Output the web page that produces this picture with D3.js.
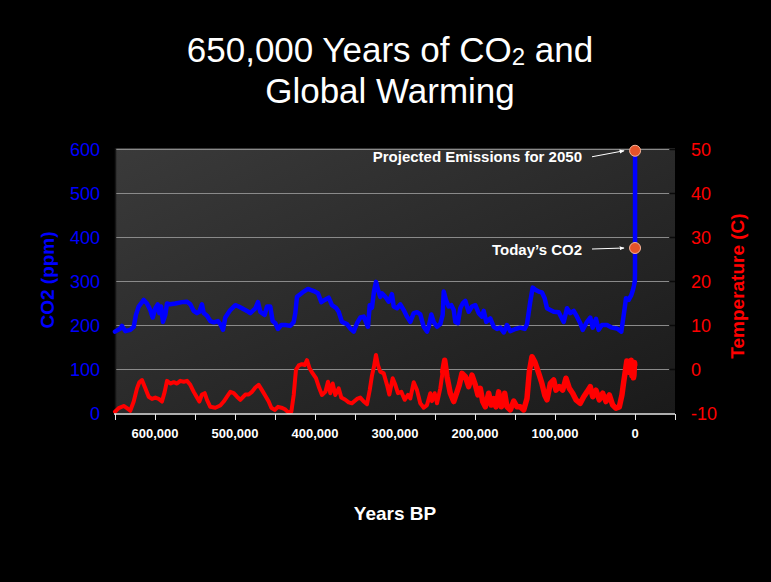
<!DOCTYPE html>
<html>
<head>
<meta charset="utf-8">
<script src="https://cdn.jsdelivr.net/npm/d3@7"></script>
<style>
  html, body { margin: 0; padding: 0; background: #000; }
  svg { display: block; }
  text { font-family: "Liberation Sans", Arial, sans-serif; }
</style>
</head>
<body>
<svg id="chart" width="771" height="582"></svg>
<script>
// ---- Data (years BP in thousands) ----
const co2Data = [[650,185],[643.4,192],[641.3,198],[637.1,186],[630.9,189],[626.6,196],[623.8,223],[620.4,242],[614.1,257],[610,249],[605.9,234],[602.9,217],[599.6,238],[596.6,247],[594.6,227],[592.5,242],[590,207],[587.1,223],[585,249],[580.9,247],[574.6,249],[566.3,252],[560,253],[555.9,247],[551.6,232],[547.5,227],[544.6,230],[541.3,247],[539.1,227],[535,221],[530.9,209],[526.6,206],[521.3,209],[518.4,202],[515,189],[512.1,217],[505.9,234],[499.6,245],[495.4,242],[491.3,238],[485,232],[480.9,227],[474.6,238],[471.3,252],[468.4,230],[462.9,223],[460,242],[455.9,242],[452.9,209],[449.6,204],[446.3,191],[442.1,200],[437.1,200],[430.9,198],[426.6,207],[424.6,227],[422.5,264],[418.4,270],[414.1,276],[408.8,282],[401.6,277],[396.3,272],[392.1,252],[387.9,257],[382.9,262],[378.8,245],[373.8,239],[370.4,230],[366.3,207],[360,202],[355.9,192],[351.6,185],[347.5,204],[343.4,217],[339.1,219],[333.8,196],[331.6,245],[328.8,239],[326.3,276],[323.8,298],[321.3,280],[318.4,264],[316.3,272],[312.1,264],[307.9,253],[303.8,270],[301.6,242],[297.5,238],[293.4,247],[289.1,234],[285,219],[280.9,207],[276.6,227],[272.5,229],[268.4,224],[264.1,196],[260,185],[257.9,196],[254.6,224],[251.6,207],[247.5,196],[243.4,202],[240.4,223],[239.1,276],[236.3,257],[232.9,242],[229.6,245],[226.6,234],[224.6,207],[221.3,204],[218.4,238],[215.4,249],[212.1,255],[207.9,230],[203.8,242],[199.6,245],[195.4,227],[191.3,219],[189.1,232],[185.9,207],[180.9,215],[176.6,196],[172.5,191],[168.4,194],[164.1,183],[160,200],[155.9,186],[149.6,191],[143.4,194],[137.9,191],[135,202],[130.9,253],[127.9,285],[124.6,280],[120.4,276],[116.3,274],[112.9,261],[110,238],[105.9,234],[101.6,230],[95.4,229],[89.1,207],[85,238],[80.9,227],[76.6,232],[72.5,219],[68.4,204],[65.4,189],[60,207],[55.9,217],[52.9,194],[48.8,214],[45.4,189],[41.3,200],[35,200],[28.8,194],[22.5,192],[17.1,185],[12.9,238],[11.3,261],[7.9,257],[4.6,268],[2.5,280],[1.2,290],[0.2,300],[0,315],[-0.05,375],[-0.1,596]];

const tempData = [[650,-9.7],[645.4,-8.9],[639.1,-8.4],[635,-8.9],[630.9,-9.5],[626.6,-7.4],[622.5,-4.4],[619.6,-3.0],[616.3,-2.5],[612.1,-4.4],[607.9,-6.3],[603.8,-6.8],[599.6,-6.5],[595.4,-6.8],[591.3,-7.4],[587.9,-5.2],[585,-2.7],[580.9,-3.3],[576.6,-3.0],[572.5,-3.3],[568.4,-2.7],[564.1,-2.9],[560,-2.7],[555.9,-3.6],[551.6,-5.2],[547.5,-6.5],[544.6,-7.4],[541.3,-5.8],[537.9,-5.5],[535,-7.0],[530.9,-8.6],[524.6,-8.8],[518.4,-8.3],[514.1,-7.4],[510,-6.3],[505.9,-5.2],[501.6,-5.5],[497.5,-6.3],[493.4,-7.0],[487.1,-5.8],[482.9,-5.8],[478.8,-5.2],[474.6,-4.2],[470.4,-3.6],[466.3,-4.8],[462.1,-6.1],[457.9,-7.4],[454.6,-8.8],[450.4,-9.3],[446.3,-8.6],[442.1,-8.8],[437.9,-9.1],[433.8,-9.8],[429.6,-9.7],[426.6,-5.9],[423.8,-0.2],[420.4,0.8],[416.3,1.1],[412.9,0.9],[410,2.0],[407.1,0.3],[402.9,-1.0],[398.8,-2.1],[394.6,-4.4],[391.3,-5.9],[387.1,-5.2],[383.8,-2.9],[380.9,-5.5],[377.9,-3.3],[374.6,-5.9],[370.4,-4.4],[367.1,-6.5],[362.1,-7.0],[357.9,-7.6],[353.8,-7.8],[347.5,-6.8],[343.4,-6.5],[339.1,-7.4],[335,-8.0],[331.6,-4.8],[328.8,-1.5],[326.3,0.5],[323.8,3.2],[321.3,0.9],[318.4,-0.6],[314.1,-1.0],[310,-3.6],[307.1,-5.8],[302.9,-2.1],[299.6,-3.6],[296.3,-5.5],[292.1,-5.2],[287.9,-7.0],[283.8,-5.9],[280.9,-6.7],[276.6,-3.0],[272.5,-4.8],[268.4,-7.8],[264.1,-8.8],[260,-8.2],[255.9,-5.5],[253.8,-7.3],[250.4,-5.5],[247.5,-7.8],[243.4,-4.4],[240.4,-0.6],[237.9,2.0],[235,-1.7],[230.9,-5.5],[226.6,-7.4],[222.5,-5.2],[219.6,-3.6],[216.3,-1.0],[212.1,-1.7],[207.9,-4.0],[203.8,-1.4],[199.6,-3.6],[196.3,-5.9],[193.4,-4.4],[190.4,-7.4],[187.1,-8.6],[182.9,-5.5],[179.6,-8.2],[176.6,-6.7],[173.8,-8.6],[170.4,-5.2],[167.1,-8.6],[164.1,-7.4],[162.9,-5.5],[160,-8.6],[155.9,-9.3],[151.6,-7.3],[147.5,-8.6],[143.4,-8.6],[139.1,-9.3],[135,-6.7],[132.1,-0.6],[128.8,2.8],[125.4,1.7],[122.5,0.2],[119.6,-1.4],[116.3,-3.3],[112.9,-5.9],[110,-7.0],[105.9,-3.3],[101.6,-2.5],[98.8,-4.8],[94.6,-4.0],[90.4,-4.8],[86.3,-2.1],[82.1,-4.4],[77.9,-5.5],[73.8,-7.0],[68.4,-7.8],[64.1,-6.3],[60,-5.2],[55.9,-4.0],[52.9,-6.3],[48.8,-4.8],[44.6,-7.0],[40.4,-5.5],[36.3,-7.4],[32.1,-5.9],[27.9,-8.2],[23.8,-8.9],[19.6,-8.6],[16.3,-5.9],[14.1,-2.9],[11.3,0.5],[10.3,1.8],[9.3,-0.5],[7.9,1.7],[6.8,-0.8],[5.9,-0.2],[4.8,2.0],[3.8,-1.5],[2.9,1.3],[1.9,-2.0],[1.3,-1.4],[0.6,1.5],[0.3,0.9]];

const markers = [
  { label: "Projected Emissions for 2050", kyr: -0.1, ppm: 596 },
  { label: "Today\u2019s CO2", kyr: -0.05, ppm: 375 }
];

const xTickValues = [650,600,550,500,450,400,350,300,250,200,150,100,50,0,-50];
const xLabelValues = [600,500,400,300,200,100,0];
const co2Ticks = [0,100,200,300,400,500,600];
const tempTicks = [-10,0,10,20,30,40,50];

const titleLine1 = ["650,000 Years of CO", "2", " and"];
const titleLine2 = "Global Warming";

// ---- Layout ----
const svg = d3.select("#chart");
const W = 771, H = 582;
const L = 115, R = 675, T = 149, B = 413;

svg.append("rect").attr("width", W).attr("height", H).attr("fill", "#000");

const x = d3.scaleLinear().domain([650, -50]).range([L, R]);
const yC = d3.scaleLinear().domain([0, 600]).range([B, T]);
const yT = d3.scaleLinear().domain([-10, 50]).range([B, T]);

const defs = svg.append("defs");
const grad = defs.append("linearGradient").attr("id", "bg")
  .attr("x1", "0").attr("y1", "0").attr("x2", "1").attr("y2", "1");
grad.append("stop").attr("offset", "0%").attr("stop-color", "#3a3a3a");
grad.append("stop").attr("offset", "100%").attr("stop-color", "#1a1a1a");

svg.append("rect").attr("x", L).attr("y", T - 1).attr("width", R - L).attr("height", B - T + 1)
  .attr("fill", "url(#bg)");

// gridlines
svg.append("g").selectAll("line").data(co2Ticks.filter(d => d > 0)).join("line")
  .attr("x1", L).attr("x2", R - 6)
  .attr("y1", d => Math.round(yC(d)) + 0.5).attr("y2", d => Math.round(yC(d)) + 0.5)
  .attr("stroke", "#8a8a8a").attr("stroke-width", 1);

// right-side dark ticks
svg.append("g").selectAll("line").data(tempTicks.filter(d => d > -10)).join("line")
  .attr("x1", R - 5).attr("x2", R)
  .attr("y1", d => Math.round(yT(d)) + 0.5).attr("y2", d => Math.round(yT(d)) + 0.5)
  .attr("stroke", "#0a0a0a").attr("stroke-width", 1.5);

// left edge dark strip
svg.append("line").attr("x1", L + 0.5).attr("x2", L + 0.5).attr("y1", T - 1).attr("y2", B)
  .attr("stroke", "#151515").attr("stroke-width", 1.5);

// ---- Lines ----
const tLine = d3.line().x(d => x(d[0])).y(d => yT(d[1]));
const cLine = d3.line().x(d => x(d[0])).y(d => yC(d[1]));

// older (smoother) and recent (noisier, visually thicker) parts of the temperature record
svg.append("path").datum(tempData.filter(d => d[0] >= 240)).attr("d", tLine)
  .attr("fill", "none").attr("stroke", "#ff0000").attr("stroke-width", 4)
  .attr("stroke-linejoin", "round").attr("stroke-linecap", "round");
svg.append("path").datum(tempData.filter(d => d[0] <= 240.4)).attr("d", tLine)
  .attr("fill", "none").attr("stroke", "#ff0000").attr("stroke-width", 5.5)
  .attr("stroke-linejoin", "round").attr("stroke-linecap", "round");

svg.append("path").datum(co2Data).attr("d", cLine)
  .attr("fill", "none").attr("stroke", "#0000ff").attr("stroke-width", 4.5)
  .attr("stroke-linejoin", "round").attr("stroke-linecap", "round");

// ---- X axis ----
const xAxis = svg.append("g").attr("transform", `translate(0,${B + 1})`);
xAxis.append("line").attr("x1", L - 1).attr("x2", R).attr("y1", 0).attr("y2", 0)
  .attr("stroke", "#e8e8e8").attr("stroke-width", 1.5);
xAxis.selectAll("line.tk").data(xTickValues).join("line").attr("class", "tk")
  .attr("x1", d => Math.round(x(d)) + 0.5).attr("x2", d => Math.round(x(d)) + 0.5)
  .attr("y1", 0).attr("y2", 6).attr("stroke", "#e8e8e8").attr("stroke-width", 1);
xAxis.selectAll("text").data(xLabelValues).join("text")
  .attr("x", d => x(d)).attr("y", 24)
  .attr("text-anchor", "middle").attr("fill", "#ffffff")
  .attr("font-size", 13).attr("font-weight", "bold")
  .text(d => d3.format(",")(d * 1000));

// ---- Left axis ----
svg.append("g").selectAll("text").data(co2Ticks).join("text")
  .attr("x", 100).attr("y", d => yC(d) + 6.5)
  .attr("text-anchor", "end").attr("fill", "#0000ff").attr("font-size", 18)
  .text(d => d);

svg.append("text").attr("transform", "translate(47,280) rotate(-90)")
  .attr("text-anchor", "middle").attr("dy", "0.35em")
  .attr("fill", "#0000ff").attr("font-size", 19).attr("font-weight", "bold")
  .text("CO2 (ppm)");

// ---- Right axis ----
svg.append("g").selectAll("text").data(tempTicks).join("text")
  .attr("x", 691).attr("y", d => yT(d) + 6.5)
  .attr("text-anchor", "start").attr("fill", "#ff0000").attr("font-size", 18)
  .text(d => d);

svg.append("text").attr("transform", "translate(737,286) rotate(-90)")
  .attr("text-anchor", "middle").attr("dy", "0.35em")
  .attr("fill", "#ff0000").attr("font-size", 19).attr("font-weight", "bold")
  .text("Temperature (C)");

// ---- X title ----
svg.append("text").attr("x", 395).attr("y", 520)
  .attr("text-anchor", "middle").attr("fill", "#ffffff")
  .attr("font-size", 19).attr("font-weight", "bold").text("Years BP");

// ---- Title ----
const t1 = svg.append("text").attr("x", 390).attr("y", 62)
  .attr("text-anchor", "middle").attr("fill", "#ffffff").attr("font-size", 35);
t1.append("tspan").text(titleLine1[0]);
t1.append("tspan").attr("font-size", 24).attr("dy", 3).text(titleLine1[1]);
t1.append("tspan").attr("dy", -3).text(titleLine1[2]);
svg.append("text").attr("x", 390).attr("y", 103)
  .attr("text-anchor", "middle").attr("fill", "#ffffff").attr("font-size", 35)
  .text(titleLine2);

// ---- Annotations ----
defs.append("marker").attr("id", "arr").attr("viewBox", "0 0 10 10")
  .attr("refX", 9).attr("refY", 5).attr("markerWidth", 5).attr("markerHeight", 5)
  .attr("orient", "auto")
  .append("path").attr("d", "M0,1 L10,5 L0,9 Z").attr("fill", "#ffffff");

markers.forEach((m, i) => {
  const px = x(m.kyr), py = yC(m.ppm);
  svg.append("text").attr("x", 582).attr("y", py + (i === 0 ? 11.5 : 6.5))
    .attr("text-anchor", "end").attr("fill", "#ffffff")
    .attr("font-size", 15).attr("font-weight", "bold").text(m.label);
  svg.append("line").attr("x1", 592).attr("y1", py + (i === 0 ? 6 : 1))
    .attr("x2", px - 11).attr("y2", py)
    .attr("stroke", "#ffffff").attr("stroke-width", 1)
    .attr("marker-end", "url(#arr)");
});
svg.append("g").selectAll("circle").data(markers).join("circle")
  .attr("cx", d => x(d.kyr)).attr("cy", d => yC(d.ppm)).attr("r", 5.5)
  .attr("fill", "#e4532a").attr("stroke", "#f3b49a").attr("stroke-width", 1);
</script>
</body>
</html>
